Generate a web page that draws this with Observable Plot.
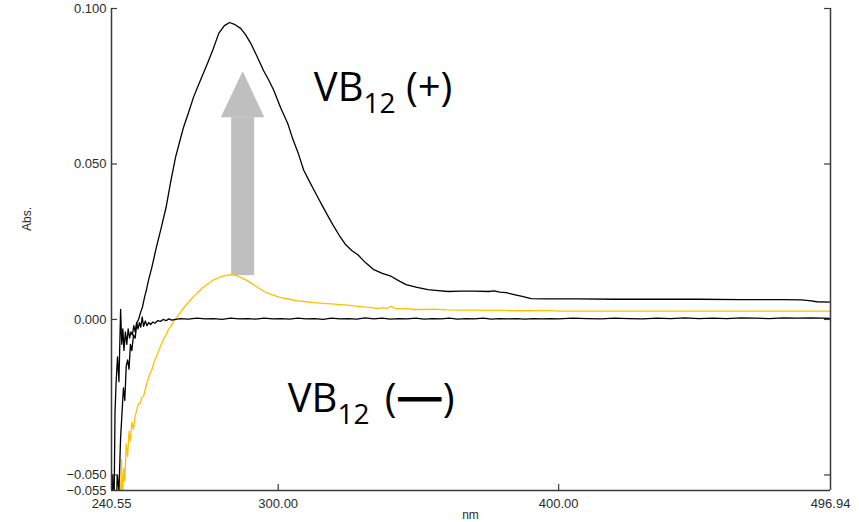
<!DOCTYPE html>
<html><head><meta charset="utf-8">
<script src="https://cdn.jsdelivr.net/npm/d3@7"></script>
<script src="https://cdn.jsdelivr.net/npm/@observablehq/plot@0.6"></script>
<style>body{margin:0;background:#fff}#chart{width:859px;height:522px;overflow:hidden}</style>
</head><body><div id="chart"></div>
<script>
// ---- axis ticks ----
const xTicks = [240.55, 300, 400, 496.94];
const yTicks = [0.1, 0.05, 0, -0.05, -0.055];
const frameTicksY = [0.1, 0.05, 0, -0.05];
const innerTicksX = [300, 400];

// ---- VB12 (+) spectrum (black, large peak) ----
const plusNm = [240.6,241.3,242.0,242.6,243.2,243.8,244.3,244.8,245.3,245.8,246.3,246.8,247.3,247.8,248.4,249.0,249.6,250.2,250.9,251.6,252.3,253.0,253.8,255.0,256.5,258.1,260.0,261.7,263.4,264.8,266.3,268.0,269.8,272.3,274.8,276.8,278.8,280.8,282.7,284.6,286.6,288.4,290.2,292.5,294.8,296.6,298.4,300.9,303.4,305.2,307.0,309.1,310.9,312.7,314.3,315.9,317.7,319.5,321.8,324.1,326.2,328.4,331.2,334.1,337.1,340.2,342.9,345.6,349.5,353.4,357.0,360.6,365,370,375,377,379,381.3,384.1,387,390.2,395,407,420,435,450,465,480,486.6,490,492,496.94];
const plusAbs = [-0.08,-0.06,-0.07,-0.05,-0.055,-0.038,-0.03,-0.022,-0.026,-0.015,-0.013,-0.016,-0.008,-0.01,-0.005,-0.006,-0.001,0.000,0.0022,0.004,0.007,0.0095,0.0128,0.017,0.023,0.0288,0.036,0.0445,0.0522,0.057,0.062,0.0665,0.0715,0.077,0.0824,0.087,0.092,0.0945,0.0955,0.0948,0.0936,0.0915,0.0888,0.0845,0.080,0.077,0.0737,0.068,0.063,0.058,0.0538,0.048,0.0448,0.0417,0.039,0.0363,0.0333,0.0304,0.027,0.024,0.0222,0.0208,0.0182,0.016,0.0148,0.0139,0.0125,0.0112,0.0103,0.0096,0.0093,0.009,0.0091,0.0091,0.009,0.0092,0.0088,0.0086,0.008,0.0074,0.0067,0.0066,0.0066,0.0065,0.0065,0.0065,0.0064,0.0064,0.0063,0.006,0.0057,0.0056];

// ---- VB12 (-) spectrum (black, baseline) ----
const minusNm = [240.6,241.0,241.4,241.8,242.2,242.7,243.2,243.8,244.2,244.6,245.0,245.5,246.0,246.5,247.0,247.5,248.0,248.5,249.0,249.5,250.0,250.5,251.0,251.5,252.0,252.6,253.2,253.8,254.5,255.3,256,257,258,259,260,261,262,265,268,271,274,277,280,283,286,289,292,295,298,301,304,307,310,313,316,319,322,325,328,331,334,337,340,343,346,349,352,355,358,361,364,367,370,373,376,379,382,385,388,391,394,397,400,405,410,415,420,425,430,435,440,445,450,455,460,465,470,475,480,485,490,494,496.94];
const minusAbs = [-0.09,-0.05,-0.065,-0.03,-0.02,-0.012,-0.02,0.0032,-0.008,-0.003,-0.01,-0.004,-0.008,-0.003,-0.006,-0.004,-0.005,-0.002,-0.004,-0.001,-0.003,-0.001,-0.0025,0.0008,-0.0022,-0.0005,-0.002,-0.001,-0.0016,-0.0008,-0.0012,-0.0004,-0.0006,0.0,-0.0004,0.0002,-0.0002,0.0003,0.0001,0.0004,0.0002,0.0003,0.0,0.0004,0.0002,0.0003,0.0001,0.0004,0.0002,0.0003,0.0001,0.0004,0.0002,0.0003,0.0,0.0004,0.0002,0.0003,0.0001,0.0005,0.0002,0.0004,0.0001,0.0003,0.0002,0.0004,0.0001,0.0003,0.0002,0.0004,0.0001,0.0003,0.0002,0.0004,0.0001,0.0003,0.0002,0.0003,0.0001,0.0003,0.0002,0.0003,0.0002,0.0004,0.0003,0.0002,0.0004,0.0003,0.0002,0.0004,0.0003,0.0005,0.0003,0.0004,0.0003,0.0005,0.0004,0.0003,0.0005,0.0004,0.0005,0.0004,0.0003];

// ---- yellow spectrum ----
const yellowNm = [242.9,243.3,243.7,244.1,244.5,244.9,245.3,245.8,246.3,246.8,247.3,247.8,248.4,249.0,249.6,250.2,250.8,251.4,252,253,254,255,256,257,258,259,260,261,262,263,264.1,265.5,267,268.5,270,271.3,273,275,277,279,281,283,285,287,289,291,293,295,297,299,301,304,307,310,312.8,316,319,322,324.7,327,329,331,333,335.4,337,339,340.2,341.5,344,346,348.4,352,356,360,365,370,375,380,385,390,395,400,410,420,430,440,450,460,470,480,490,496.94];
const yellowAbs = [-0.07,-0.05,-0.062,-0.045,-0.058,-0.048,-0.052,-0.04,-0.044,-0.036,-0.039,-0.033,-0.0353,-0.031,-0.029,-0.027,-0.027,-0.025,-0.0247,-0.021,-0.018,-0.016,-0.013,-0.011,-0.0087,-0.0065,-0.005,-0.003,-0.0018,-0.0003,0.001,0.0028,0.0045,0.006,0.0075,0.0087,0.0102,0.0115,0.0128,0.0135,0.0141,0.0144,0.0142,0.0134,0.0125,0.0113,0.0101,0.009,0.0082,0.0076,0.007,0.0065,0.006,0.0057,0.0054,0.0052,0.005,0.0048,0.0046,0.0044,0.0042,0.004,0.0039,0.0035,0.0038,0.0036,0.0043,0.0036,0.0034,0.0035,0.0032,0.0032,0.0033,0.0031,0.003,0.003,0.0029,0.0029,0.0028,0.0028,0.0029,0.0027,0.0027,0.0027,0.0027,0.0027,0.0027,0.0027,0.0027,0.0027,0.0027,0.0027];

// ---- annotations ----
const arrowShaft = [{x1: 283.4, x2: 291.6, y1: 0.0141, y2: 0.0649}];
const arrowHeadNm = [279.7, 287.5, 295.2];
const arrowHeadTop = [0.0649, 0.0797, 0.0649];
const arrowHeadBase = 0.0649;
const labelText = ["VB12 (+)", "VB12 (—)"];
const labelNm = [312.7, 303.4];
const labelAbs = [0.0701, -0.0299];

const toRows = (xs, ys) => xs.map((x, i) => ({x, y: ys[i]}));
const xDom = [xTicks[0], xTicks[xTicks.length - 1]];
const yDom = [yTicks[yTicks.length - 1], yTicks[0]];
const axisColor = "#3a3a3a";

const svg = Plot.plot({
  width: 859, height: 522,
  marginLeft: 111, marginRight: 29, marginTop: 8, marginBottom: 32,
  style: {fontFamily: "Liberation Sans, Arial, sans-serif", fontSize: "13px", color: "#2b2b2b", background: "#fff"},
  x: {domain: xDom, ticks: xTicks, tickFormat: d3.format(".2f"), tickSize: 0, tickPadding: 8, label: null},
  y: {domain: yDom, ticks: yTicks, tickFormat: d3.format(".3f"), tickSize: 0, tickPadding: 5, label: null},
  marks: [
    Plot.rect(arrowShaft, {x1: "x1", x2: "x2", y1: "y1", y2: "y2", fill: "#bfbfbf"}),
    Plot.areaY(arrowHeadNm.map((x, i) => ({x, y2: arrowHeadTop[i]})), {x: "x", y1: arrowHeadBase, y2: "y2", fill: "#bfbfbf"}),
    Plot.line(toRows(yellowNm, yellowAbs), {x: "x", y: "y", stroke: "#FFC000", strokeWidth: 1.3, clip: true}),
    Plot.line(toRows(minusNm, minusAbs), {x: "x", y: "y", stroke: "#000", strokeWidth: 1.3, clip: true}),
    Plot.line(toRows(plusNm, plusAbs), {x: "x", y: "y", stroke: "#000", strokeWidth: 1.3, clip: true}),
    Plot.ruleX([xDom[0], xDom[1]], {y1: yDom[0], y2: yDom[1], stroke: axisColor, strokeWidth: 1.5}),
    Plot.ruleY([yDom[0]], {x1: xDom[0], x2: xDom[1], stroke: axisColor, strokeWidth: 1.5}),
    Plot.ruleY(frameTicksY, {x1: xDom[0], x2: xDom[0], insetRight: -6, stroke: axisColor, strokeWidth: 1.2}),
    Plot.ruleY(frameTicksY, {x1: xDom[1], x2: xDom[1], insetLeft: -6, stroke: axisColor, strokeWidth: 1.2}),
    Plot.ruleX(innerTicksX, {y1: yDom[0], y2: yDom[0], insetTop: -6, stroke: axisColor, strokeWidth: 1.2}),
    Plot.text(labelText.map((t, i) => ({t, x: labelNm[i], y: labelAbs[i]})), {x: "x", y: "y", text: "t", textAnchor: "start", lineAnchor: "bottom", fontFamily: "Open Sans", fontSize: 40, fill: "#000"})
  ]
});

// subscripts for the VB12 labels
svg.querySelectorAll("text").forEach(t => {
  const m = /^VB12 \((.*)\)$/.exec(t.textContent);
  if (!m) return;
  t.textContent = "";
  const ns = "http://www.w3.org/2000/svg";
  const add = (txt, attrs) => {
    const e = document.createElementNS(ns, "tspan");
    e.textContent = txt;
    for (const k in attrs) e.setAttribute(k, attrs[k]);
    t.appendChild(e);
  };
  add("VB", {});
  add("12", {"font-size": "28", dy: "12"});
  const dashed = m[1] === "—";
  add(" (", {dy: "-12", dx: dashed ? "5" : "0"});
  if (dashed) add("—", {"font-size": "46", stroke: "#000", "stroke-width": "1.2"});
  else add(m[1], {});
  add(")", {});
});

const s = d3.select(svg);
s.append("text").attr("transform", "translate(27,219) rotate(-90)").attr("text-anchor", "middle").attr("dy", "0.35em")
  .attr("font-size", 12).attr("fill", "#2b2b2b").text("Abs.");
s.append("text").attr("x", 470.5).attr("y", 519).attr("text-anchor", "middle")
  .attr("font-size", 12).attr("fill", "#2b2b2b").text("nm");

document.getElementById("chart").appendChild(svg);
</script>
</body></html>
